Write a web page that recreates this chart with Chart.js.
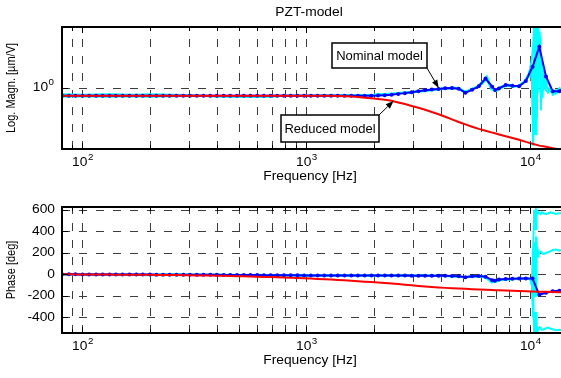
<!DOCTYPE html>
<html>
<head>
<meta charset="utf-8">
<script src="https://cdn.jsdelivr.net/npm/chart.js@4.4.1/dist/chart.umd.min.js"></script>
<style>
  html, body { margin: 0; padding: 0; background: #fff; overflow: hidden; }
  #wrap { position: relative; width: 561px; height: 378px; overflow: hidden; }
  canvas { position: absolute; left: 0; }
  #mag { top: 0; }
  #phase { top: 190px; }
</style>
</head>
<body>
<div id="wrap">
  <canvas id="mag" width="600" height="190"></canvas>
  <canvas id="phase" width="600" height="188"></canvas>
</div>
<script>
// frequency grid of the two models [Hz]
const modelFreq = [81, 87, 93, 100, 107, 115, 123, 132, 141, 151, 162, 174, 186, 200, 214, 229, 245, 263, 282, 302,
  324, 347, 372, 398, 427, 457, 490, 525, 562, 603, 646, 692, 741, 794, 851, 912, 977, 1047, 1122, 1202,
  1288, 1380, 1479, 1585, 1698, 1820, 1950, 2089, 2239, 2399, 2570, 2754, 2951, 3162, 3388, 3631, 3890, 4169, 4467, 4786,
  5129, 5495, 5888, 6310, 6761, 6950, 7244, 7762, 8318, 8913, 9550, 10233, 10965, 11749, 12589, 13490, 14000];

// magnitude [um/V]
const nominalMag = [0.84, 0.84, 0.84, 0.84, 0.84, 0.84, 0.84, 0.84, 0.84, 0.84, 0.84, 0.84, 0.84, 0.84, 0.84, 0.84, 0.84, 0.84, 0.84, 0.84,
  0.84, 0.84, 0.84, 0.84, 0.84, 0.84, 0.84, 0.84, 0.84, 0.84, 0.84, 0.84, 0.84, 0.84, 0.84, 0.84, 0.84, 0.84, 0.84, 0.84,
  0.84, 0.84, 0.84, 0.84, 0.84, 0.84, 0.84, 0.842, 0.85, 0.86, 0.875, 0.89, 0.91, 0.93, 0.95, 0.965, 0.98, 0.995, 1.0, 0.985,
  0.90, 0.96, 1.04, 1.24, 1.03, 0.955, 0.99, 1.07, 1.05, 1.04, 1.17, 1.62, 2.55, 1.3, 0.93, 0.93, 0.99];
const reducedMag = [0.84, 0.84, 0.84, 0.84, 0.84, 0.84, 0.84, 0.84, 0.84, 0.84, 0.84, 0.84, 0.84, 0.84, 0.84, 0.84, 0.84, 0.84, 0.84, 0.84,
  0.84, 0.84, 0.84, 0.84, 0.84, 0.84, 0.84, 0.84, 0.84, 0.84, 0.84, 0.84, 0.84, 0.84, 0.84, 0.84, 0.84, 0.84, 0.84, 0.84,
  0.838, 0.835, 0.83, 0.823, 0.813, 0.803, 0.792, 0.78, 0.765, 0.748, 0.72, 0.695, 0.665, 0.638, 0.61, 0.58, 0.55, 0.52, 0.49, 0.462,
  0.437, 0.415, 0.395, 0.379, 0.363, 0.357, 0.348, 0.334, 0.321, 0.308, 0.294, 0.282, 0.27, 0.263, 0.255, 0.247, 0.243];

// phase [deg]
const nominalPhase = [0, 0, 0, -1, -1, -1, -1, -1, -2, -2, -2, -2, -2, -2, -3, -3, -3, -3, -4, -4,
  -4, -5, -5, -5, -6, -6, -6, -7, -7, -7, -8, -8, -8, -9, -9, -9, -10, -10, -10, -10,
  -11, -11, -11, -11, -12, -12, -12, -12, -12, -12, -12, -12, -13, -13, -13, -13, -14, -14, -15, -18,
  -28, -18, -16, -22, -55, -60, -48, -44, -42, -40, -38, -40, -190, -172, -158, -152, -150];
const reducedPhase = [0, -0.5, -1, -1, -1.5, -2, -2, -2.5, -3, -3, -3.5, -4, -4.5, -5, -5.5, -6, -6.5, -7, -8, -9,
  -10, -11, -12, -13, -14, -15.5, -17, -18.5, -20, -22, -24, -26, -28, -30, -32, -34.5, -37, -40, -43, -46,
  -49, -52, -56, -60, -64, -68, -72, -76, -80, -85, -90, -96, -102, -108, -113, -118, -122, -126, -129, -132,
  -135, -138, -141, -144, -146, -147, -149, -151, -153, -155, -157, -159, -161, -163, -165, -166, -167];

// measured responses (three records)
const measFreq = [81, 100, 130, 170, 200, 250, 300, 400, 500, 600, 700, 800, 1000,
  1300, 1600, 2000, 2500, 3000, 3500, 4000, 4500, 4800, 5100, 5400, 5800,
  6100, 6400, 6700, 7000, 7400, 7900, 8400, 8900, 9400, 9800,
  10000, 10150, 10300, 10400, 10500, 10600, 10700, 10800, 10900, 11000,
  11150, 11300, 11500, 11750, 12000, 12300, 12600, 13000, 13500, 14000];
const measMagA = [0.87, 0.86, 0.87, 0.86, 0.87, 0.86, 0.85, 0.83, 0.82, 0.815, 0.825, 0.84, 0.845,
  0.845, 0.85, 0.86, 0.88, 0.91, 0.94, 0.98, 1.01, 1.0, 0.92, 0.97, 1.02,
  1.12, 1.3, 1.0, 0.93, 1.0, 1.06, 1.02, 1.06, 1.16, 1.35,
  1.55, 1.9, 2.6, 4.5, 1.2, 5.0, 0.6, 4.2, 2.2, 3.6,
  2.0, 1.6, 1.3, 1.1, 0.98, 0.93, 0.9, 0.95, 0.92, 1.0];
const measMagB = [0.82, 0.83, 0.82, 0.83, 0.82, 0.83, 0.84, 0.83, 0.82, 0.82, 0.83, 0.84, 0.835,
  0.85, 0.85, 0.86, 0.89, 0.92, 0.95, 0.99, 1.0, 0.98, 0.9, 0.96, 1.03,
  1.15, 1.22, 0.97, 0.95, 1.03, 1.08, 1.05, 1.04, 1.14, 1.3,
  1.6, 1.4, 0.27, 2.0, 0.35, 3.5, 0.5, 2.8, 1.4, 2.5,
  0.6, 1.4, 1.0, 1.2, 0.92, 1.0, 0.86, 0.9, 1.0, 0.95];
const measMagC = [0.85, 0.85, 0.86, 0.85, 0.85, 0.85, 0.84, 0.83, 0.83, 0.83, 0.84, 0.84, 0.84,
  0.84, 0.85, 0.86, 0.88, 0.91, 0.95, 0.98, 1.0, 0.99, 0.91, 0.96, 1.04,
  1.1, 1.25, 1.02, 0.94, 1.01, 1.07, 1.04, 1.05, 1.15, 1.32,
  1.5, 1.2, 1.6, 0.5, 2.2, 1.1, 3.0, 0.9, 1.8, 2.6,
  1.3, 0.8, 1.2, 0.95, 0.9, 0.97, 0.93, 0.88, 0.96, 0.98];
const measPhaseA = [0, -2, 0, -3, -8, -2, -3, -5, -6, -8, -8, -9, -10,
  -10, -11, -12, -12, -13, -14, -14, -18, -20, -30, -20, -18,
  -22, -35, -75, -70, -52, -48, -45, -42, -40, -40,
  -45, -100, 250, 600, 420, 600, 560, 580, 565, 570,
  560, 575, 565, 560, 565, 575, 570, 560, 568, 570];
const measPhaseB = [2, 0, -2, -1, -4, -3, -4, -6, -8, -9, -7, -10, -11,
  -11, -12, -11, -13, -14, -13, -15, -17, -22, -27, -22, -17,
  -20, -40, -70, -65, -50, -46, -44, -43, -41, -42,
  -50, -60, -400, 300, -200, 350, 150, 220, 180, 200,
  210, 195, 190, 200, 205, 215, 225, 230, 220, 230];
const measPhaseC = [-1, -1, -1, -2, -3, -2, -4, -5, -7, -7, -9, -9, -10,
  -10, -11, -12, -12, -13, -14, -15, -17, -21, -28, -19, -16,
  -21, -38, -72, -68, -50, -47, -44, -41, -40, -39,
  -48, -80, -300, -550, -350, -560, -480, -520, -500, -490,
  -505, -515, -510, -500, -495, -505, -510, -520, -515, -520];

// axes
const freqRange = [81, 14000];
const freqGrid = [90, 100, 200, 300, 400, 500, 600, 700, 800, 900, 1000, 2000, 3000, 4000, 5000, 6000, 7000, 8000, 9000, 10000];
const freqLabels = [100, 1000, 10000];
const magRange = [0.25, 4];
const magTicks = [1];
const phaseRange = [-545, 625];
const phaseTicks = [-400, -200, 0, 200, 400, 600];

const CYAN = "#00ffff", BLUE = "#0000ff", RED = "#ff0000";
const GRID = "#3c3c3c";
const FAMILY = '"Liberation Sans", Arial, sans-serif';
const FONT = "12px " + FAMILY;
const FONT_SUP = "8.5px " + FAMILY;
const FONT_YLAB = "11px " + FAMILY;
const FONT_NOTE = "13px " + FAMILY;
const STRETCH = 1.15; // text in the figure is drawn a bit wide

function wideText(ctx, text, x, y, align) {
  ctx.save();
  ctx.translate(x, y);
  ctx.scale(STRETCH, 1);
  ctx.textAlign = align || "center";
  ctx.textBaseline = "middle";
  ctx.fillText(text, 0, 0);
  ctx.restore();
}

function series(label, xs, ys, color, width, radius, order) {
  return {
    label,
    data: xs.map((f, i) => ({ x: f, y: ys[i] })),
    borderColor: color,
    backgroundColor: color,
    borderWidth: width,
    pointRadius: radius,
    pointBorderWidth: 0,
    tension: 0,
    fill: false,
    clip: 0,
    order
  };
}

// "10" with a raised exponent; align "center" or "right" at x
function power10(ctx, x, y, v, align) {
  const exp = String(Math.round(Math.log10(v)));
  ctx.font = FONT;
  const bw = ctx.measureText("10").width * STRETCH;
  ctx.font = FONT_SUP;
  const ew = ctx.measureText(exp).width * STRETCH;
  const left = align === "right" ? x - bw - ew - 0.5 : x - (bw + ew) / 2;
  ctx.font = FONT;
  wideText(ctx, "10", left, y, "left");
  ctx.font = FONT_SUP;
  wideText(ctx, exp, left + bw + 0.5, y - 5, "left");
}

function arrow(ctx, x0, y0, x1, y1) {
  const ang = Math.atan2(y1 - y0, x1 - x0);
  const len = 8, half = 3;
  ctx.beginPath();
  ctx.moveTo(x0, y0);
  ctx.lineTo(x1 - len * Math.cos(ang), y1 - len * Math.sin(ang));
  ctx.stroke();
  ctx.beginPath();
  ctx.moveTo(x1, y1);
  ctx.lineTo(x1 - len * Math.cos(ang) + half * Math.sin(ang), y1 - len * Math.sin(ang) - half * Math.cos(ang));
  ctx.lineTo(x1 - len * Math.cos(ang) - half * Math.sin(ang), y1 - len * Math.sin(ang) + half * Math.cos(ang));
  ctx.closePath();
  ctx.fill();
}

// MATLAB-like box, dashed grid, inward ticks and labels
function matlabAxes(cfg) {
  return {
    id: "matlabAxes",
    beforeDatasetsDraw(chart) {
      const { ctx, chartArea: a, scales } = chart;
      ctx.save();
      ctx.strokeStyle = GRID;
      ctx.lineWidth = 1;
      ctx.setLineDash([8, 9]);
      ctx.beginPath();
      freqGrid.forEach(v => {
        const px = Math.round(scales.x.getPixelForValue(v)) + 0.5;
        ctx.moveTo(px, a.bottom);
        ctx.lineTo(px, a.top);
      });
      cfg.yTicks.forEach(v => {
        const py = Math.round(scales.y.getPixelForValue(v)) + 0.5;
        ctx.moveTo(a.left, py);
        ctx.lineTo(a.right, py);
      });
      ctx.stroke();
      ctx.restore();
    },
    afterDatasetsDraw(chart) {
      const { ctx, chartArea: a, scales } = chart;
      ctx.save();
      ctx.strokeStyle = "#000";
      ctx.fillStyle = "#000";
      ctx.lineWidth = 1;
      ctx.beginPath();
      freqGrid.forEach(v => {
        const px = Math.round(scales.x.getPixelForValue(v)) + 0.5;
        const t = freqLabels.includes(v) ? 6 : 4;
        ctx.moveTo(px, a.bottom); ctx.lineTo(px, a.bottom - t);
        ctx.moveTo(px, a.top); ctx.lineTo(px, a.top + t);
      });
      cfg.yTicks.forEach(v => {
        const py = Math.round(scales.y.getPixelForValue(v)) + 0.5;
        ctx.moveTo(a.left, py); ctx.lineTo(a.left + 6, py);
      });
      ctx.stroke();

      ctx.lineWidth = 2;
      ctx.strokeRect(a.left, a.top, a.right - a.left, a.bottom - a.top);

      // tick labels
      freqLabels.forEach(v => power10(ctx, scales.x.getPixelForValue(v), a.bottom + 14, v, "center"));
      cfg.yTicks.forEach(v => {
        const py = scales.y.getPixelForValue(v);
        if (cfg.logY) {
          power10(ctx, a.left - 8, py, v, "right");
        } else {
          ctx.font = FONT;
          wideText(ctx, String(v), a.left - 7, py, "right");
        }
      });

      // axis labels
      ctx.font = FONT;
      wideText(ctx, "Frequency [Hz]", 310, a.bottom + 28);
      if (cfg.title) wideText(ctx, cfg.title, 309, 13);
      ctx.font = FONT_YLAB;
      ctx.save();
      ctx.translate(12, (a.top + a.bottom) / 2);
      ctx.rotate(-Math.PI / 2);
      ctx.scale(1, STRETCH);
      ctx.textAlign = "center";
      ctx.textBaseline = "middle";
      ctx.fillText(cfg.yLabel, 0, 0);
      ctx.restore();

      // annotations
      (cfg.notes || []).forEach(n => {
        const tx = scales.x.getPixelForValue(n.at[0]);
        const ty = scales.y.getPixelForValue(n.at[1]);
        ctx.lineWidth = 1;
        arrow(ctx, n.from[0], n.from[1], tx, ty);
        ctx.fillStyle = "#fff";
        ctx.fillRect(n.box[0], n.box[1], n.box[2], n.box[3]);
        ctx.fillStyle = "#000";
        ctx.lineWidth = 1.5;
        ctx.strokeRect(n.box[0], n.box[1], n.box[2], n.box[3]);
        ctx.font = FONT_NOTE;
        ctx.textAlign = "center";
        ctx.textBaseline = "middle";
        ctx.fillText(n.text, n.box[0] + n.box[2] / 2, n.box[1] + n.box[3] / 2 + 0.5);
      });
      ctx.restore();
    }
  };
}

function chartOptions(yScale, padding) {
  return {
    responsive: false,
    animation: false,
    events: [],
    layout: { padding, autoPadding: false },
    plugins: { legend: { display: false }, tooltip: { enabled: false }, title: { display: false } },
    scales: {
      x: { type: "logarithmic", min: freqRange[0], max: freqRange[1], display: false },
      y: Object.assign({ display: false }, yScale)
    }
  };
}

new Chart(document.getElementById("mag"), {
  type: "line",
  data: {
    datasets: [
      series("Reduced model", modelFreq, reducedMag, RED, 2, 0, 0),
      series("Nominal model", modelFreq, nominalMag, BLUE, 2, 2, 1),
      series("Measured 1", measFreq, measMagA, CYAN, 2, 0, 2),
      series("Measured 2", measFreq, measMagB, CYAN, 2, 0, 3),
      series("Measured 3", measFreq, measMagC, CYAN, 2, 0, 4)
    ]
  },
  options: chartOptions({ type: "logarithmic", min: magRange[0], max: magRange[1] },
    { left: 62, top: 27, right: 37, bottom: 41 }),
  plugins: [matlabAxes({
    yTicks: magTicks, logY: true, yLabel: "Log. Magn. [\u00b5m/V]", title: "PZT-model",
    notes: [
      { text: "Nominal model", box: [332, 43, 95, 25], from: [427, 68], at: [3900, 1.0] },
      { text: "Reduced model", box: [281, 115, 98, 27], from: [379, 115], at: [2450, 0.745] }
    ]
  })]
});

new Chart(document.getElementById("phase"), {
  type: "line",
  data: {
    datasets: [
      series("Reduced model", modelFreq, reducedPhase, RED, 2, 0, 0),
      series("Nominal model", modelFreq, nominalPhase, BLUE, 2, 2, 1),
      series("Measured 1", measFreq, measPhaseA, CYAN, 2, 0, 2),
      series("Measured 2", measFreq, measPhaseB, CYAN, 2, 0, 3),
      series("Measured 3", measFreq, measPhaseC, CYAN, 2, 0, 4)
    ]
  },
  options: chartOptions({ type: "linear", min: phaseRange[0], max: phaseRange[1] },
    { left: 62, top: 17, right: 37, bottom: 45 }),
  plugins: [matlabAxes({ yTicks: phaseTicks, logY: false, yLabel: "Phase [deg]" })]
});
</script>
</body>
</html>
